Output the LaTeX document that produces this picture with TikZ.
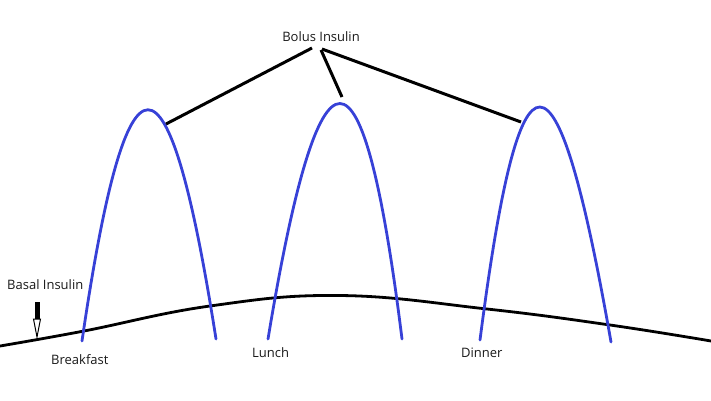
\documentclass[tikz,border=0pt]{standalone}
\usepackage{fontspec}
\setmainfont{Open Sans}
\usetikzlibrary{arrows.meta}
\definecolor{curveblue}{RGB}{55,65,215}
\tikzset{
  lbl/.style={font=\fontsize{13}{15}\selectfont, inner sep=0pt, text=black!90},
  bolus/.style={draw=curveblue, line width=2.8pt, line cap=round},
  conn/.style={draw=black, line width=3pt},
  base/.style={draw=black, line width=2.8pt},
}
\begin{document}
\begin{tikzpicture}[x=1pt,y=-1pt]
\useasboundingbox (0,0) rectangle (711,400);
% labels
\node[lbl] (bolus) at (321,37) {Bolus Insulin};
\node[lbl, anchor=west] (basal) at (7,285) {Basal Insulin};
\node[lbl, anchor=west] (breakfast) at (51,360) {Breakfast};
\node[lbl, anchor=west] (lunch) at (252,353) {Lunch};
\node[lbl, anchor=west] (dinner) at (461,353) {Dinner};
% basal curve
\draw[base] plot[smooth, tension=0.7] coordinates {(0,346) (84,331) (210,306) (340,295.5) (487,309) (610,325) (711,341)};
% bolus peaks
\coordinate (p1a) at (82,341);
\coordinate (p1b) at (216,339);
\coordinate (p2a) at (268,339);
\coordinate (p2b) at (402,339);
\coordinate (p3a) at (480,340);
\coordinate (p3b) at (611,342);
\draw[bolus] (p1a) .. controls (127,33) and (168,33) .. (p1b);
\draw[bolus] (p2a) .. controls (320,25) and (363,25) .. (p2b);
\draw[bolus] (p3a) .. controls (520,29) and (556,29) .. (p3b);
% connectors from label
\coordinate (hubL) at (312,48);
\coordinate (hubM) at (321,50);
\coordinate (hubR) at (322,49);
\coordinate (e1) at (166,124);
\coordinate (e2) at (342,97);
\coordinate (e3) at (521,122);
\draw[conn] (hubL) -- (e1);
\draw[conn] (hubM) -- (e2);
\draw[conn] (hubR) -- (e3);
% basal arrow
\coordinate (arTop) at (37,302);
\coordinate (arMid) at (37,321);
\coordinate (arTip) at (37,337);
\draw[black, line width=5pt] (arTop) -- (arMid);
\draw[black, line width=1pt, fill=white] (33.5,319) -- (40.5,319) -- (arTip) -- cycle;
\end{tikzpicture}
\end{document}
